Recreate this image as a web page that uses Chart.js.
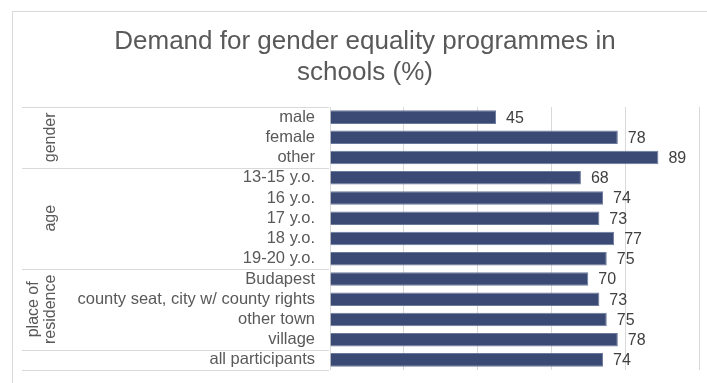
<!DOCTYPE html>
<html>
<head>
<meta charset="utf-8">
<script src="https://cdn.jsdelivr.net/npm/chart.js@4/dist/chart.umd.min.js"></script>
<style>
  html, body { margin: 0; padding: 0; background: #fff; }
  #wrap { width: 707px; height: 383px; }
</style>
</head>
<body>
<div id="wrap"><canvas id="demandChart"></canvas></div>
<script>
const categories = ["male", "female", "other", "13-15 y.o.", "16 y.o.", "17 y.o.", "18 y.o.", "19-20 y.o.",
    "Budapest", "county seat, city w/ county rights", "other town", "village", "all participants"];
const values = [45, 78, 89, 68, 74, 73, 77, 75, 70, 73, 75, 78, 74];
const groupNames = [["gender"], ["age"], ["place of", "residence"], []];
const groupSizes = [3, 5, 4, 1];
const titleLines = ["Demand for gender equality programmes in", "schools (%)"];

const FONT = "'Liberation Sans', Arial, sans-serif";
const LINE = "#d9d9d9";

// frame, title, group separators and rotated group names
const decorations = {
    id: "decorations",
    afterDraw(chart) {
        const ctx = chart.ctx;
        const y = chart.scales.y;
        const area = chart.chartArea;
        const half = (y.getPixelForValue(1) - y.getPixelForValue(0)) / 2;

        ctx.save();
        ctx.strokeStyle = LINE;
        ctx.lineWidth = 1;
        ctx.beginPath();
        ctx.moveTo(12.5, 383);
        ctx.lineTo(12.5, 11.5);
        ctx.lineTo(707, 11.5);
        ctx.stroke();

        ctx.fillStyle = "#595959";
        ctx.font = "26px " + FONT;
        ctx.textAlign = "center";
        ctx.textBaseline = "middle";
        titleLines.forEach((t, i) => ctx.fillText(t, 365, 42 + i * 31));

        // separators between groups
        ctx.strokeStyle = LINE;
        let start = 0;
        const lines = [y.getPixelForValue(0) - half];
        groupSizes.forEach((n, g) => {
            const end = start + n - 1;
            lines.push(y.getPixelForValue(end) + half);
            const mid = (y.getPixelForValue(start) + y.getPixelForValue(end)) / 2;
            const names = groupNames[g];
            ctx.save();
            ctx.translate(names.length > 1 ? 42 : 51, mid);
            ctx.rotate(-Math.PI / 2);
            ctx.fillStyle = "#595959";
            ctx.font = "16px " + FONT;
            ctx.textAlign = "center";
            ctx.textBaseline = "middle";
            names.forEach((s, i) => ctx.fillText(s, 0, (i - (names.length - 1) / 2) * 17));
            ctx.restore();
            start = end + 1;
        });
        ctx.beginPath();
        lines.forEach(p => {
            const py = Math.round(p) + 0.5;
            ctx.moveTo(22, py);
            ctx.lineTo(area.left - 1, py);
        });
        ctx.stroke();
        ctx.restore();
    },
    afterDatasetsDraw(chart) {
        const ctx = chart.ctx;
        const meta = chart.getDatasetMeta(0);
        ctx.save();
        ctx.fillStyle = "#404040";
        ctx.font = "16px " + FONT;
        ctx.textAlign = "left";
        ctx.textBaseline = "middle";
        meta.data.forEach((bar, i) => {
            ctx.fillText(values[i], bar.x + 10, bar.y + 1);
        });
        ctx.restore();
    }
};

new Chart(document.getElementById("demandChart"), {
    type: "bar",
    data: {
        labels: categories,
        datasets: [{
            data: values,
            backgroundColor: "#3b4a75",
            borderColor: "#6b799d",
            borderWidth: 1,
            categoryPercentage: 1,
            barPercentage: 0.67
        }]
    },
    options: {
        indexAxis: "y",
        responsive: true,
        maintainAspectRatio: false,
        animation: false,
        layout: { padding: { left: 12, right: 8, top: 107, bottom: 13 } },
        plugins: {
            legend: { display: false },
            tooltip: { enabled: false },
            title: { display: false }
        },
        scales: {
            x: {
                min: 0,
                max: 100,
                ticks: { display: false, stepSize: 20 },
                grid: { color: LINE, drawTicks: false },
                border: { display: false }
            },
            y: {
                afterFit: s => {
                    s.width = 318;
                    s.paddingTop = 0;
                    s.paddingBottom = 0;
                },
                ticks: {
                    color: "#595959",
                    font: { family: FONT, size: 16.5 },
                    padding: 15,
                    autoSkip: false
                },
                grid: { display: false, drawTicks: false },
                border: { display: false }
            }
        }
    },
    plugins: [decorations]
});
</script>
</body>
</html>
